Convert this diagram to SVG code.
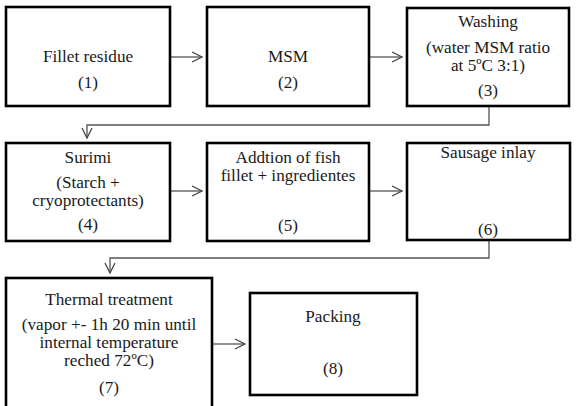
<svg xmlns="http://www.w3.org/2000/svg" width="576" height="406" viewBox="0 0 576 406">
<style>
.box{fill:#fff;stroke:#000;stroke-width:2.6}
text{font-family:'Liberation Serif','DejaVu Serif',serif;font-size:17.2px;fill:#1a1a1a;text-anchor:middle}
.c{fill:none;stroke:#555;stroke-width:1.3}
.ah{fill:none;stroke:#444;stroke-width:1.3}
</style>
<defs>
<marker id="arr" viewBox="0 0 12 12" refX="11" refY="6" markerWidth="12" markerHeight="12" markerUnits="userSpaceOnUse" orient="auto">
<path d="M1,1 L11,6 L1,11" class="ah"/>
</marker>
</defs>
<rect width="576" height="406" fill="#fff"/>
<g id="connectors">
<line class="c" x1="171" y1="57" x2="202" y2="57" marker-end="url(#arr)"/>
<line class="c" x1="370" y1="57" x2="402" y2="57" marker-end="url(#arr)"/>
<polyline class="c" points="489,107 489,125 87,125 87,138" marker-end="url(#arr)"/>
<line class="c" x1="171" y1="191" x2="202" y2="191" marker-end="url(#arr)"/>
<line class="c" x1="370" y1="191" x2="402" y2="191" marker-end="url(#arr)"/>
<polyline class="c" points="489,241 489,258 110,258 110,273" marker-end="url(#arr)"/>
<line class="c" x1="213" y1="344" x2="245" y2="344" marker-end="url(#arr)"/>
</g>
<g id="n1">
<rect class="box" x="6" y="7" width="164" height="99"/>
<text x="88" y="62">Fillet residue</text>
<text x="88" y="88">(1)</text>
</g>
<g id="n2">
<rect class="box" x="207" y="7" width="162" height="99"/>
<text x="288" y="62">MSM</text>
<text x="288" y="88">(2)</text>
</g>
<g id="n3">
<rect class="box" x="407" y="8" width="162" height="98"/>
<text x="488" y="27">Washing</text>
<text x="488" y="53">(water MSM ratio</text>
<text x="488" y="71">at 5ºC 3:1)</text>
<text x="488" y="96">(3)</text>
</g>
<g id="n4">
<rect class="box" x="6" y="143" width="164" height="98"/>
<text x="88" y="163">Surimi</text>
<text x="88" y="188">(Starch +</text>
<text x="88" y="206">cryoprotectants)</text>
<text x="88" y="230">(4)</text>
</g>
<g id="n5">
<rect class="box" x="207" y="143" width="162" height="98"/>
<text x="288" y="163">Addtion of fish</text>
<text x="288" y="181">fillet + ingredientes</text>
<text x="288" y="231">(5)</text>
</g>
<g id="n6">
<rect class="box" x="407" y="143" width="163" height="97"/>
<text x="488" y="158">Sausage inlay</text>
<text x="488" y="235">(6)</text>
</g>
<g id="n7">
<rect class="box" x="6" y="278" width="206" height="135"/>
<text x="109" y="305">Thermal treatment</text>
<text x="109" y="330">(vapor +- 1h 20 min until</text>
<text x="109" y="348">internal temperature</text>
<text x="109" y="366">reched 72ºC)</text>
<text x="109" y="393">(7)</text>
</g>
<g id="n8">
<rect class="box" x="250" y="293" width="167" height="102"/>
<text x="333" y="322">Packing</text>
<text x="333" y="374">(8)</text>
</g>
</svg>
